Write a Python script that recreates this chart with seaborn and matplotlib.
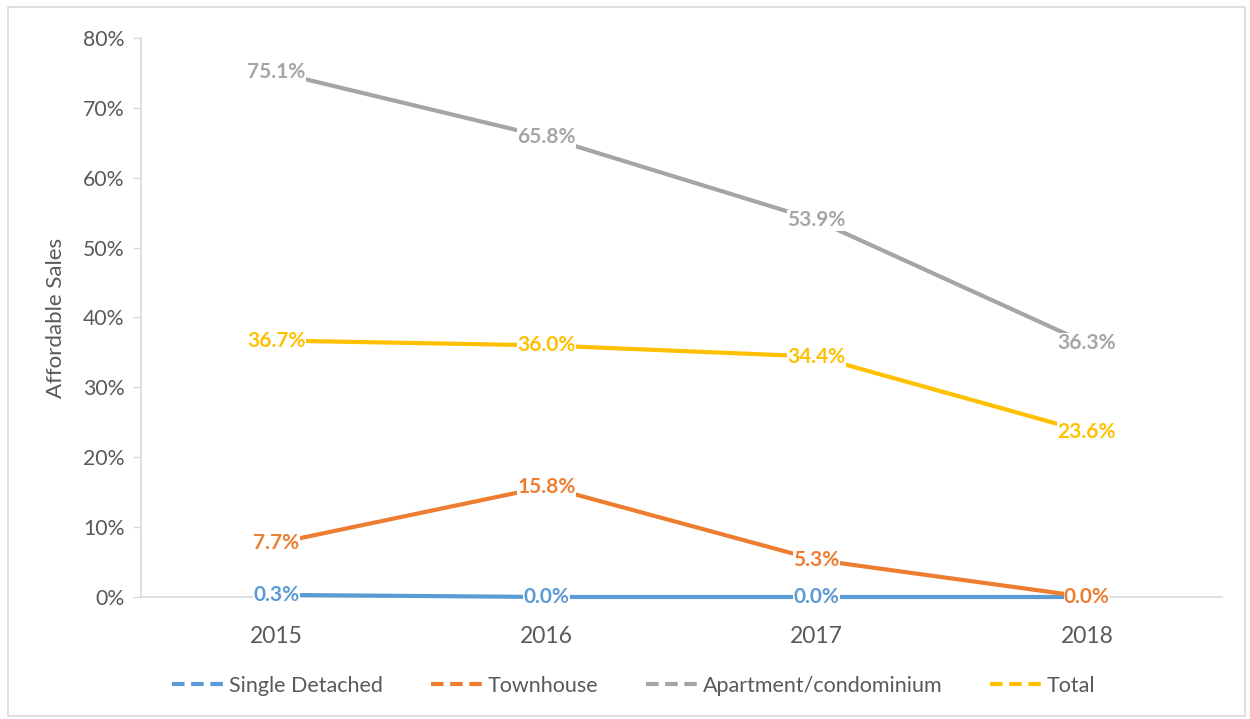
import pandas as pd
import seaborn as sns
import matplotlib.pyplot as plt
from matplotlib.lines import Line2D
from matplotlib.patches import Rectangle

years = ['2015', '2016', '2017', '2018']
single_detached = [0.3, 0.0, 0.0, 0.0]
townhouse = [7.7, 15.8, 5.3, 0.0]
apartment = [75.1, 65.8, 53.9, 36.3]
total = [36.7, 36.0, 34.4, 23.6]

series_names = ['Single Detached', 'Townhouse', 'Apartment/condominium', 'Total']
colors = ['#5B9BD5', '#ED7D31', '#A5A5A5', '#FFC000']


def build_df():
    rows = []
    for name, vals in zip(series_names, [single_detached, townhouse, apartment, total]):
        for i, (yr, v) in enumerate(zip(years, vals)):
            rows.append({'pos': i, 'year': yr, 'value': v, 'series': name})
    return pd.DataFrame(rows)


def main():
    df = build_df()
    sns.set_theme(style='white')
    plt.rcParams['font.family'] = ['Lato', 'DejaVu Sans']
    grey = '#595959'

    fig = plt.figure(figsize=(12.5, 7.19), dpi=100)
    ax = fig.add_axes([0.1128, 0.1697, 0.8648, 0.7775])
    fig.patches.append(Rectangle((0.006, 0.004), 0.99, 0.986, transform=fig.transFigure,
                                 fill=False, edgecolor='#D9D9D9', linewidth=1.2))

    sns.lineplot(data=df, x='pos', y='value', hue='series', hue_order=series_names,
                 palette=colors, linewidth=3, ax=ax, legend=False, zorder=3)
    for ln in ax.lines:
        ln.set_clip_on(False)

    # data labels centred on the points, white box hides the line behind
    for name, col in zip(series_names, colors):
        sub = df[df.series == name]
        for _, r in sub.iterrows():
            ax.text(r.pos, r.value, '%.1f%%' % r.value, ha='center', va='center',
                    fontsize=15, fontweight='bold', color=col, zorder=5,
                    bbox=dict(boxstyle='square,pad=0.02', fc='white', ec='none'))

    ax.set_xlim(-0.5, 3.5)
    ax.set_ylim(0, 80)
    ax.set_xticks(range(len(years)))
    ax.set_xticklabels(years)
    ax.set_yticks(range(0, 81, 10))
    ax.set_yticklabels(['%d%%' % v for v in range(0, 81, 10)])
    ax.tick_params(axis='y', labelsize=15.3, colors=grey, length=6, width=1,
                   color='#D9D9D9', left=True, pad=6)
    ax.tick_params(axis='x', labelsize=16.5, colors=grey, length=0, pad=21)
    ax.set_xlabel('')
    ax.set_ylabel('Affordable Sales', fontsize=16, color=grey, labelpad=12)

    for s in ['top', 'right']:
        ax.spines[s].set_visible(False)
    for s in ['left', 'bottom']:
        ax.spines[s].set_color('#D9D9D9')
        ax.spines[s].set_linewidth(1.2)

    handles = [Line2D([0], [0], color=c, linewidth=3, linestyle=(0, (3, 1.6)))
               for c in colors]
    fig.legend(handles, series_names, loc='center', bbox_to_anchor=(0.507, 0.046),
               ncol=4, frameon=False, fontsize=15.5, handlelength=2.6,
               columnspacing=2.2, handletextpad=0.05, labelcolor=grey)

    fig.savefig('out.png', dpi=100)


if __name__ == '__main__':
    main()
